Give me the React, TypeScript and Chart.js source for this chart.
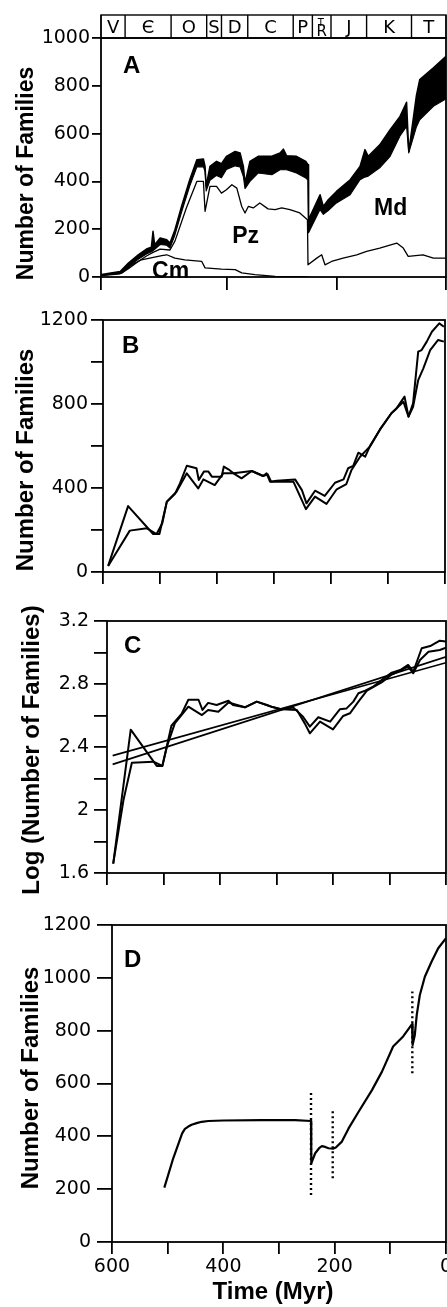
import { useEffect, useRef } from 'react';
import { Chart, registerables } from 'chart.js';

Chart.register(...registerables);

// ---------------- data ----------------
// Panel A : geologic time scale (Myr) and marine family fields
const PERIOD_NAMES = ['V', 'Є', 'O', 'S', 'D', 'C', 'P', 'TR', 'J', 'K', 'T'];
const PERIOD_BOUNDS = [630, 586, 502, 437, 410, 362, 279, 244, 210, 145, 63, 0];
const A_X_MAX = 630;
const A_X_TICKS = [630, 400, 200, 0];
const A_Y_TICKS = [0, 200, 400, 600, 800, 1000];

const A_BAND_T = [629, 595, 580, 562, 547, 538, 535, 532, 522, 510, 504, 495, 483, 468, 455, 443, 440, 438, 431, 419, 410, 401, 385, 376, 370, 367, 358, 343, 318, 303, 297, 291, 273, 256, 252, 251, 230, 224, 215, 200, 175, 157, 148, 142, 121, 102, 84, 72, 68, 54, 48, 23, 0];
const A_TOTAL = [10, 23, 58, 93, 117, 125, 191, 135, 163, 156, 142, 198, 295, 407, 491, 494, 463, 380, 463, 484, 474, 505, 525, 519, 463, 393, 484, 505, 505, 519, 535, 507, 505, 484, 470, 240, 344, 295, 323, 358, 407, 463, 533, 505, 553, 616, 672, 731, 525, 760, 826, 875, 923];
const A_ASSIGNED = [5, 13, 42, 74, 96, 106, 110, 116, 136, 133, 121, 176, 270, 380, 460, 462, 440, 360, 405, 425, 415, 450, 465, 460, 420, 370, 400, 435, 428, 449, 449, 449, 435, 414, 405, 185, 282, 262, 278, 310, 344, 407, 418, 422, 457, 505, 590, 630, 519, 628, 658, 714, 745];

const A_PZ_T = [629, 592, 580, 562, 547, 535, 522, 504, 495, 474, 455, 443, 440, 431, 419, 410, 401, 391, 382, 373, 367, 361, 352, 340, 325, 312, 300, 285, 267, 253, 252, 236, 227, 221, 209, 188, 163, 145, 121, 90, 78, 69, 42, 23, 0];
const A_PZ = [8, 17, 35, 65, 88, 103, 117, 113, 150, 290, 400, 400, 275, 379, 379, 351, 365, 386, 372, 295, 268, 295, 289, 310, 285, 282, 289, 282, 268, 240, 51, 79, 93, 51, 65, 79, 93, 107, 121, 142, 121, 86, 93, 79, 79];

const A_CM_T = [629, 592, 574, 556, 541, 519, 510, 495, 477, 446, 440, 410, 385, 373, 349, 312, 280, 251];
const A_CM = [8, 17, 51, 72, 79, 89, 93, 79, 72, 65, 38, 33, 31, 17, 10, 3, 1, 0];

const A_LABELS = ['Pz', 'Md', 'Cm'];
const A_LABEL_T = [366, 101, 503];
const A_LABEL_V = [143, 261, -3];

// Panel B : two family counts
const X_MAX = 600;
const X_TICKS = [600, 500, 400, 300, 200, 100, 0];
const B_Y_TICKS = [0, 200, 400, 600, 800, 1000, 1200];
const B_Y_LABELED = [0, 400, 800, 1200];
const B_T1 = [591, 556, 512, 501, 488, 474, 465, 453, 436, 432, 423, 415, 409, 392, 388, 380, 371, 357, 339, 319, 313, 307, 295, 263, 251, 243, 228, 211, 193, 178, 170, 161, 152, 140, 132, 114, 94, 85, 71, 64, 56, 47, 41, 32, 23, 10, 2];
const B_V1 = [29, 314, 181, 181, 335, 371, 422, 506, 494, 438, 478, 478, 454, 454, 502, 489, 470, 446, 481, 457, 470, 430, 435, 441, 390, 327, 387, 362, 425, 441, 494, 505, 568, 549, 597, 679, 756, 779, 835, 740, 803, 1049, 1057, 1097, 1144, 1184, 1168];
const B_T2 = [591, 553, 523, 506, 496, 488, 471, 453, 433, 424, 404, 389, 371, 339, 319, 311, 305, 266, 254, 244, 228, 208, 190, 173, 164, 149, 132, 114, 94, 73, 64, 56, 47, 38, 26, 12, 2];
const B_V2 = [29, 197, 208, 181, 232, 335, 382, 470, 398, 441, 414, 470, 470, 481, 457, 465, 430, 430, 359, 299, 359, 324, 394, 419, 486, 549, 597, 679, 756, 811, 740, 787, 914, 970, 1057, 1105, 1097];

// Panel C : log counts and two fitted lines
const C_Y_TICKS = [1.6, 1.8, 2.0, 2.2, 2.4, 2.6, 2.8, 3.0, 3.2];
const C_Y_LABELED = [1.6, 2, 2.4, 2.8, 3.2];
const C_T1 = [589, 558, 512, 502, 486, 468, 456, 438, 431, 421, 406, 385, 377, 356, 335, 317, 309, 291, 270, 253, 241, 226, 205, 188, 176, 164, 155, 143, 129, 114, 96, 81, 67, 58, 43, 28, 11, 0];
const C_V1 = [1.66, 2.51, 2.28, 2.28, 2.535, 2.61, 2.7, 2.7, 2.635, 2.68, 2.667, 2.694, 2.667, 2.652, 2.688, 2.667, 2.656, 2.639, 2.65, 2.592, 2.529, 2.589, 2.561, 2.639, 2.645, 2.688, 2.741, 2.758, 2.783, 2.825, 2.872, 2.889, 2.921, 2.878, 3.027, 3.041, 3.075, 3.069];
const C_T2 = [589, 571, 556, 518, 502, 494, 480, 456, 432, 421, 403, 385, 356, 335, 309, 290, 264, 250, 241, 223, 200, 182, 170, 155, 140, 114, 96, 67, 58, 46, 31, 11, 0];
const C_V2 = [1.66, 2.06, 2.3, 2.307, 2.28, 2.402, 2.55, 2.656, 2.603, 2.635, 2.624, 2.683, 2.652, 2.688, 2.656, 2.639, 2.635, 2.55, 2.487, 2.561, 2.512, 2.597, 2.614, 2.688, 2.758, 2.81, 2.86, 2.91, 2.868, 2.952, 3.005, 3.016, 3.03];
const C_FIT_T = [590, 0];
const C_FIT1 = [2.29, 2.973];
const C_FIT2 = [2.345, 2.935];

// Panel D : model curve and extinction markers
const D_Y_TICKS = [0, 200, 400, 600, 800, 1000, 1200];
const D_X_LABELED = [600, 400, 200, 0];
const D_T = [506, 490, 474, 469, 463, 457, 448, 439, 427, 400, 331, 271, 242.5, 242, 235, 228, 223, 217, 211, 203, 198, 187, 175, 157, 133, 115, 95, 77, 61, 60, 56, 52.6, 47, 38, 26, 14, 0];
const D_V = [206, 317, 411, 428, 437, 444, 450, 455, 458, 460, 461, 461, 458, 298, 336, 355, 363, 360, 355, 353, 358, 380, 430, 493, 575, 645, 740, 778, 825, 746, 784, 859, 935, 1004, 1061, 1112, 1150];
const D_EXT_T = [242.5, 203.5, 60.5];
const D_EXT_LO = [178, 241, 639];
const D_EXT_HI = [569, 506, 948];

// ---------------- helpers ----------------
const CW = 480;
const TICK_FONT = { family: 'DejaVu Sans', size: 19 };
const BOLD = '"Liberation Sans", Arial, sans-serif';

function pts(xs: number[], ys: number[]) {
  return xs.map((x, i) => ({ x, y: ys[i] }));
}

function line(data: any[], width: number, extra: any = {}) {
  return {
    data,
    borderColor: '#000',
    backgroundColor: '#000',
    borderWidth: width,
    pointRadius: 0,
    fill: false,
    tension: 0,
    borderJoinStyle: 'round',
    ...extra,
  };
}

const fmt = (v: number) => String(Math.round(v * 10) / 10);

function axis(o: {
  min: number;
  max: number;
  reverse?: boolean;
  ticks: number[];
  labeled: number[] | null;
  tickLength: number;
  size: number;
  horizontal: boolean;
  padding?: number;
}) {
  return {
    type: 'linear',
    min: o.min,
    max: o.max,
    reverse: !!o.reverse,
    position: o.horizontal ? 'bottom' : 'left',
    afterBuildTicks: (s: any) => {
      s.ticks = o.ticks.map((v) => ({ value: v }));
    },
    afterFit: (s: any) => {
      if (o.horizontal) s.height = o.size;
      else s.width = o.size;
    },
    grid: {
      display: true,
      drawOnChartArea: false,
      drawTicks: true,
      tickLength: o.tickLength,
      color: '#000',
      lineWidth: 1.8,
    },
    border: { display: false },
    ticks: {
      display: !!o.labeled,
      color: '#000',
      font: TICK_FONT,
      padding: o.padding ?? 3,
      autoSkip: false,
      maxRotation: 0,
      minRotation: 0,
      callback: (v: number) =>
        o.labeled && o.labeled.some((l) => Math.abs(l - v) < 1e-6) ? fmt(v) : '',
    },
  };
}

function text(ctx: CanvasRenderingContext2D, s: string, x: number, y: number, font: string, align: CanvasTextAlign = 'left', rot = 0) {
  ctx.save();
  ctx.fillStyle = '#000';
  ctx.font = font;
  ctx.textAlign = align;
  ctx.textBaseline = 'alphabetic';
  ctx.translate(x, y);
  if (rot) ctx.rotate(rot);
  ctx.fillText(s, 0, 0);
  ctx.restore();
}

function framePlugin() {
  return {
    id: 'frame',
    afterDraw(chart: any) {
      const { ctx, chartArea: a } = chart;
      ctx.save();
      ctx.strokeStyle = '#000';
      ctx.lineWidth = 1.8;
      ctx.strokeRect(a.left, a.top, a.right - a.left, a.bottom - a.top);
      ctx.restore();
    },
  };
}

function notePlugin(draw: (chart: any) => void) {
  return { id: 'notes', afterDraw: draw };
}

function config(datasets: any[], x: any, y: any, padding: any, plugins: any[]) {
  return {
    type: 'line',
    data: { datasets },
    options: {
      animation: false,
      responsive: false,
      maintainAspectRatio: false,
      devicePixelRatio: 1,
      events: [],
      layout: { padding },
      plugins: { legend: { display: false }, tooltip: { enabled: false }, title: { display: false } },
      scales: { x, y },
    },
    plugins,
  };
}

const YTITLE = 'Number of Families';

// ---------------- panels ----------------
function makeA() {
  const timescale = {
    id: 'timescale',
    afterDraw(chart: any) {
      const { ctx, chartArea: a, scales } = chart;
      const x = scales.x;
      const top = a.top - 23;
      ctx.save();
      ctx.strokeStyle = '#000';
      ctx.lineWidth = 1.4;
      ctx.strokeRect(a.left, top, a.right - a.left, a.top - top);
      PERIOD_BOUNDS.forEach((b) => {
        const px = x.getPixelForValue(b);
        ctx.beginPath();
        ctx.moveTo(px, top);
        ctx.lineTo(px, a.top);
        ctx.stroke();
      });
      ctx.restore();
      PERIOD_NAMES.forEach((n, i) => {
        const cx = (x.getPixelForValue(PERIOD_BOUNDS[i]) + x.getPixelForValue(PERIOD_BOUNDS[i + 1])) / 2;
        if (n === 'TR') {
          text(ctx, 'R', cx, top + 21, '15px "DejaVu Sans"', 'center');
          text(ctx, 'T', cx - 1, top + 11, '10px "DejaVu Sans"', 'center');
        } else {
          text(ctx, n, cx, top + 18, '18px "DejaVu Sans"', 'center');
        }
      });
    },
  };
  const notes = notePlugin((chart: any) => {
    const { ctx, chartArea: a, scales } = chart;
    text(ctx, 'A', a.left + 22, a.top + 35, `bold 24px ${BOLD}`);
    A_LABELS.forEach((l, i) => {
      text(ctx, l, scales.x.getPixelForValue(A_LABEL_T[i]), scales.y.getPixelForValue(A_LABEL_V[i]), `bold 23px ${BOLD}`, 'center');
    });
    text(ctx, YTITLE, 33, 173.5, `bold 23px ${BOLD}`, 'center', -Math.PI / 2);
  });
  return config(
    [
      line(pts(A_BAND_T, A_TOTAL), 1.5, { fill: '+1' }),
      line(pts(A_BAND_T, A_ASSIGNED), 1.1),
      line(pts(A_PZ_T, A_PZ), 1.3),
      line(pts(A_CM_T, A_CM), 1.3),
    ],
    axis({ min: 0, max: A_X_MAX, reverse: true, ticks: A_X_TICKS, labeled: null, tickLength: 13, size: 23, horizontal: true }),
    axis({ min: 0, max: 1000, ticks: A_Y_TICKS, labeled: A_Y_TICKS, tickLength: 9, size: 101, horizontal: false, padding: 2 }),
    { left: 0, top: 38, right: CW - 446, bottom: 0 },
    [framePlugin(), timescale, notes]
  );
}

function makeB() {
  const notes = notePlugin((chart: any) => {
    const { ctx, chartArea: a } = chart;
    text(ctx, 'B', a.left + 19, a.top + 33, `bold 24px ${BOLD}`);
    text(ctx, YTITLE, 33, 160, `bold 24px ${BOLD}`, 'center', -Math.PI / 2);
  });
  return config(
    [line(pts(B_T1, B_V1), 2), line(pts(B_T2, B_V2), 2)],
    axis({ min: 0, max: X_MAX, reverse: true, ticks: X_TICKS, labeled: null, tickLength: 12, size: 28, horizontal: true }),
    axis({ min: 0, max: 1200, ticks: B_Y_TICKS, labeled: B_Y_LABELED, tickLength: 12, size: 103, horizontal: false, padding: 3 }),
    { left: 0, top: 20, right: CW - 445, bottom: 0 },
    [framePlugin(), notes]
  );
}

function makeC() {
  const notes = notePlugin((chart: any) => {
    const { ctx, chartArea: a } = chart;
    text(ctx, 'C', a.left + 17, a.top + 32, `bold 24px ${BOLD}`);
    text(ctx, 'Log (Number of Families)', 39, 150, `bold 24px ${BOLD}`, 'center', -Math.PI / 2);
  });
  return config(
    [
      line(pts(C_T1, C_V1), 2),
      line(pts(C_T2, C_V2), 2),
      line(pts(C_FIT_T, C_FIT1), 1.7),
      line(pts(C_FIT_T, C_FIT2), 1.7),
    ],
    axis({ min: 0, max: X_MAX, reverse: true, ticks: X_TICKS, labeled: null, tickLength: 12, size: 27, horizontal: true }),
    axis({ min: 1.6, max: 3.2, ticks: C_Y_TICKS, labeled: C_Y_LABELED, tickLength: 13, size: 107, horizontal: false, padding: 5 }),
    { left: 0, top: 21, right: CW - 446, bottom: 0 },
    [framePlugin(), notes]
  );
}

function makeD() {
  const notes = notePlugin((chart: any) => {
    const { ctx, chartArea: a } = chart;
    text(ctx, 'D', a.left + 12, a.top + 42, `bold 24px ${BOLD}`);
    text(ctx, YTITLE, 38, 178, `bold 24px ${BOLD}`, 'center', -Math.PI / 2);
    text(ctx, 'Time (Myr)', 273, 399, `bold 24px ${BOLD}`, 'center');
  });
  const markers = D_EXT_T.map((t, i) =>
    line(pts([t, t], [D_EXT_LO[i], D_EXT_HI[i]]), 2.4, { borderDash: [2, 3], borderCapStyle: 'butt' })
  );
  return config(
    [line(pts(D_T, D_V), 2.2), ...markers],
    axis({ min: 0, max: X_MAX, reverse: true, ticks: X_TICKS, labeled: D_X_LABELED, tickLength: 12, size: 65, horizontal: true, padding: 2 }),
    axis({ min: 0, max: 1200, ticks: D_Y_TICKS, labeled: D_Y_TICKS, tickLength: 15, size: 112, horizontal: false, padding: 6 }),
    { left: 0, top: 25, right: CW - 446, bottom: 0 },
    [framePlugin(), notes]
  );
}

function Panel({ top, height, make }: { top: number; height: number; make: () => any }) {
  const ref = useRef<HTMLCanvasElement | null>(null);
  useEffect(() => {
    if (!ref.current) return;
    const chart = new Chart(ref.current, make());
    return () => chart.destroy();
  }, []);
  return (
    <canvas
      ref={ref}
      width={CW}
      height={height}
      style={{ position: 'absolute', left: 0, top, width: CW, height, display: 'block' }}
    />
  );
}

export default function App() {
  return (
    <div
      style={{
        position: 'absolute',
        left: 0,
        top: 0,
        width: 447,
        height: 1307,
        overflow: 'hidden',
        background: '#fff',
      }}
    >
      <Panel top={0} height={300} make={makeA} />
      <Panel top={300} height={300} make={makeB} />
      <Panel top={600} height={300} make={makeC} />
      <Panel top={900} height={407} make={makeD} />
    </div>
  );
}
